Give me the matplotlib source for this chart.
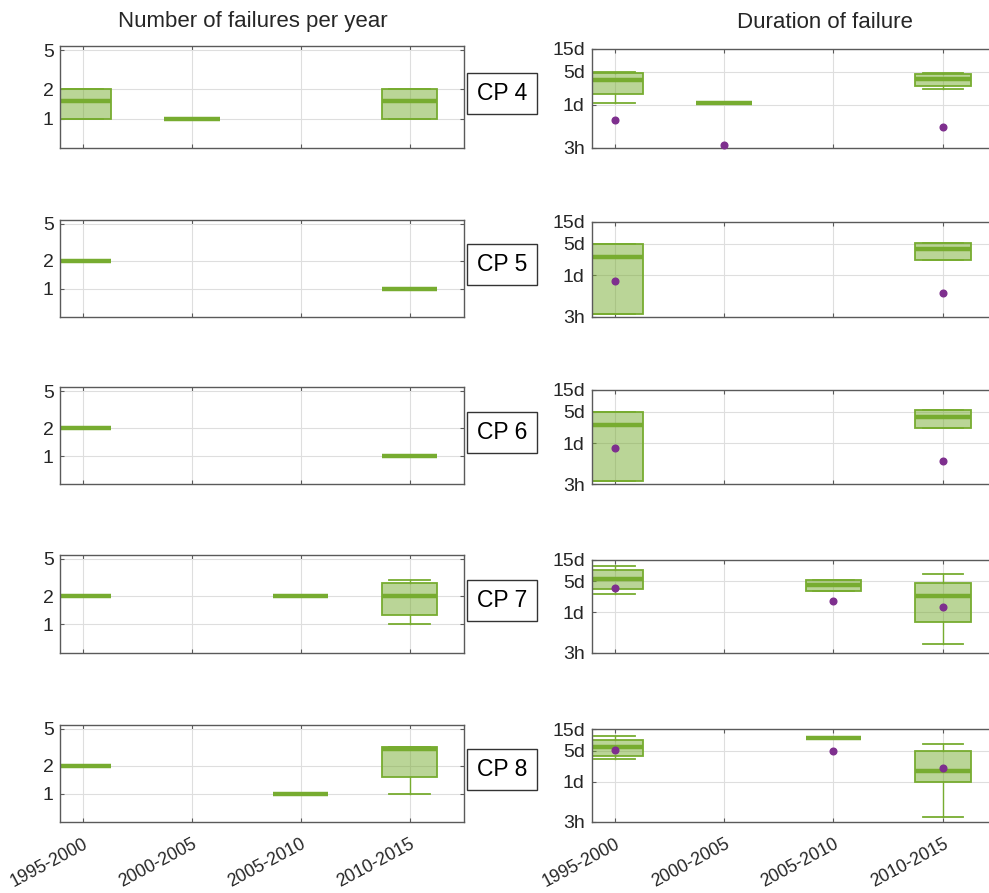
import matplotlib
matplotlib.use("Agg")
import matplotlib.pyplot as plt
from matplotlib.patches import Rectangle
from matplotlib.ticker import NullLocator

plt.rcParams['font.family'] = ['Liberation Sans', 'DejaVu Sans']

periods = ['1995-2000', '2000-2005', '2005-2010', '2010-2015']
stations = ['CP 4', 'CP 5', 'CP 6', 'CP 7', 'CP 8']

# Number of failures per year: whisker low, quartiles, median, whisker high
fail_low = [[1, 1, None, 1], [2, None, None, 1], [2, None, None, 1],
            [2, None, 2, 1], [2, None, 1, 1]]
fail_q1 = [[1, 1, None, 1], [2, None, None, 1], [2, None, None, 1],
           [2, None, 2, 1.25], [2, None, 1, 1.5]]
fail_med = [[1.5, 1, None, 1.5], [2, None, None, 1], [2, None, None, 1],
            [2, None, 2, 2], [2, None, 1, 3]]
fail_q3 = [[2, 1, None, 2], [2, None, None, 1], [2, None, None, 1],
           [2, None, 2, 2.8], [2, None, 1, 3.15]]
fail_high = [[2, 1, None, 2], [2, None, None, 1], [2, None, None, 1],
             [2, None, 2, 3], [2, None, 1, 3.15]]

# Duration of failure, hours
dur_low = [[27, 27, None, 52], [3.5, None, None, 51], [3.5, None, None, 52],
           [62, None, 72, 4.75], [76, None, 233, 3.8]]
dur_q1 = [[40, 27, None, 59], [3.5, None, None, 51], [3.5, None, None, 52],
          [80, None, 72, 15], [90, None, 233, 23]]
dur_med = [[81, 27, None, 84], [60, None, None, 92], [60, None, None, 91],
           [134, None, 98, 55], [147, None, 233, 42]]
dur_q3 = [[115, 27, None, 106], [118, None, None, 126], [119, None, None, 131],
          [211, None, 126, 112], [208, None, 233, 120]]
dur_high = [[120, 27, None, 112], [118, None, None, 126], [119, None, None, 131],
            [259, None, 126, 176], [250, None, 233, 166]]
dur_point = [[11.7, 3.5, None, 8.3], [17.7, None, None, 9.9], [19, None, None, 9.7],
             [86, None, 44, 32], [126, None, 114, 49]]

fail_ticks = [1, 2, 5]
fail_ticklabels = ['1', '2', '5']
dur_ticks = [3, 24, 120, 360]
dur_ticklabels = ['3h', '1d', '5d', '15d']

GREEN = '#77AC30'
FILL = (0.467, 0.675, 0.188, 0.5)
PURPLE = '#7E2F8E'
SPINE = '#5a5a5a'
TEXT = '#262626'

W, H = 989, 893
fig = plt.figure(figsize=(W / 100, H / 100), dpi=100)


def fig_rect(x0, y0, x1, y1):
    return [x0 / W, 1 - y1 / H, (x1 - x0) / W, (y1 - y0) / H]


left_rows = [(46, 148), (220, 316.7), (387.3, 484.3), (555, 652.7), (725, 821.7)]
right_rows = [(49, 148), (221.7, 316.7), (390, 484.3), (560, 652.7), (729.3, 821.7)]


def stats_for(i, low, q1, med, q3, high):
    out, pos = [], []
    for j in range(len(periods)):
        if med[i][j] is None:
            continue
        out.append(dict(whislo=low[i][j], q1=q1[i][j], med=med[i][j],
                        q3=q3[i][j], whishi=high[i][j], fliers=[]))
        pos.append(j + 1)
    return out, pos


def style_axes(ax, ticks, ticklabels, ylim, bottom_row, ypad):
    ax.set_yscale('log')
    ax.set_ylim(*ylim)
    ax.set_xlim(0.79, 4.5)
    ax.set_yticks(ticks)
    ax.set_yticklabels(ticklabels)
    ax.yaxis.set_minor_locator(NullLocator())
    ax.set_xticks(range(1, len(periods) + 1))
    if bottom_row:
        ax.set_xticklabels(periods, rotation=28, ha='right', va='top',
                           rotation_mode='anchor', fontsize=12.8, color=TEXT)
    else:
        ax.set_xticklabels([])
    ax.tick_params(axis='both', which='both', direction='in', length=3,
                   width=0.8, color=SPINE, top=True, right=True,
                   labelcolor=TEXT)
    ax.tick_params(axis='y', pad=ypad, labelsize=14)
    ax.tick_params(axis='x', pad=10)
    ax.grid(True, color='#dedede', linewidth=0.8)
    ax.set_axisbelow(True)
    for s in ax.spines.values():
        s.set_color(SPINE)
        s.set_linewidth(1.0)


def draw_boxes(ax, stats, pos):
    ax.bxp(stats, positions=pos, widths=0.51, capwidths=0.37, patch_artist=True,
           showfliers=False, manage_ticks=False,
           boxprops=dict(facecolor=FILL, edgecolor=GREEN, linewidth=1.3),
           medianprops=dict(color=GREEN, linewidth=3.2, solid_capstyle='butt'),
           whiskerprops=dict(color=GREEN, linewidth=1.0),
           capprops=dict(color=GREEN, linewidth=1.3))


for i, name in enumerate(stations):
    bottom_row = i == len(stations) - 1

    axl = fig.add_axes(fig_rect(60, left_rows[i][0], 464, left_rows[i][1]))
    st, pos = stats_for(i, fail_low, fail_q1, fail_med, fail_q3, fail_high)
    draw_boxes(axl, st, pos)
    style_axes(axl, fail_ticks, fail_ticklabels, (0.5, 5.5), bottom_row, 4.5)

    axr = fig.add_axes(fig_rect(591.7, right_rows[i][0], 997.5, right_rows[i][1]))
    st, pos = stats_for(i, dur_low, dur_q1, dur_med, dur_q3, dur_high)
    draw_boxes(axr, st, pos)
    px = [j + 1 for j in range(len(periods)) if dur_point[i][j] is not None]
    py = [v for v in dur_point[i] if v is not None]
    axr.plot(px, py, 'o', color=PURPLE, markersize=4.8, zorder=5, clip_on=False)
    style_axes(axr, dur_ticks, dur_ticklabels, (3, 360), bottom_row, 5)

    # station label box between the two columns
    cy = (left_rows[i][0] + left_rows[i][1]) / 2 - 3.5
    bw, bh = 70, 41
    fig.patches.append(Rectangle(((502 - bw / 2) / W, 1 - (cy + bh / 2) / H),
                                 bw / W, bh / H, transform=fig.transFigure,
                                 facecolor='white', edgecolor='#333333',
                                 linewidth=1.0, figure=fig))
    fig.text(502 / W, 1 - cy / H, name, ha='center', va='center',
             fontsize=16.5, color='black')

fig.text(252.5 / W, 1 - 22 / H, 'Number of failures per year', ha='center',
         va='center', fontsize=16, color=TEXT)
fig.text(824.5 / W, 1 - 22 / H, 'Duration of failure', ha='center',
         va='center', fontsize=16, color=TEXT)

fig.savefig('out.png', dpi=100, facecolor='white')
